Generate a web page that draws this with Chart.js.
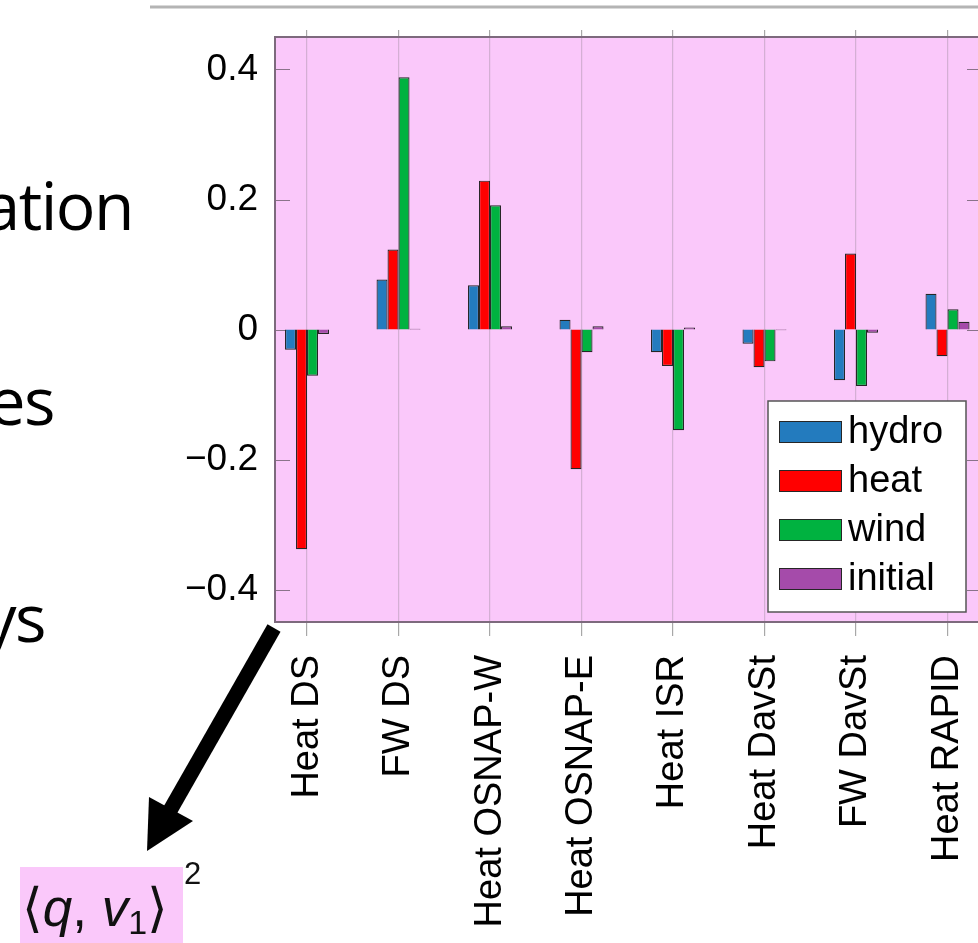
<!DOCTYPE html>
<html><head><meta charset="utf-8">
<script src="https://cdn.jsdelivr.net/npm/chart.js@4.4.1/dist/chart.umd.min.js"></script>
<style>
html,body{margin:0;padding:0;background:#fff;}
#page{position:relative;width:978px;height:943px;overflow:hidden;background:#fff;}
#c{position:absolute;left:150px;top:0;}
#deco{position:absolute;left:0;top:0;}
</style></head><body>
<div id="page">
<canvas id="c" width="850" height="943"></canvas>
<svg id="deco" width="978" height="943" xmlns="http://www.w3.org/2000/svg">
  <line x1="150" y1="7" x2="978" y2="7" stroke="#b4b4b4" stroke-width="3"/>
  <g font-family="'Open Sans', 'Noto Sans', sans-serif" font-size="66" fill="#000" text-anchor="end" letter-spacing="-1.5">
    <text x="133" y="230">ation</text>
    <text x="54" y="425">es</text>
    <text x="45" y="642">ys</text>
  </g>
  <line x1="274" y1="628" x2="168" y2="814" stroke="#000" stroke-width="15"/>
  <polygon points="149,797 193,821 147,851" fill="#000"/>
  <rect x="20" y="867" width="163" height="80" fill="#fac8fa"/>
  <text x="22" y="926" font-family="'Liberation Sans', 'DejaVu Sans', sans-serif" font-size="53" fill="#111">⟨<tspan font-style="italic">q</tspan>, <tspan font-style="italic">v</tspan><tspan font-size="34" dy="8">1</tspan><tspan dy="-8">⟩</tspan></text>
  <text x="184" y="884" font-family="'Liberation Sans', sans-serif" font-size="31" fill="#111">2</text>
</svg>
</div>
<script>
const categories = ['Heat DS','FW DS','Heat OSNAP-W','Heat OSNAP-E','Heat ISR','Heat DavSt','FW DavSt','Heat RAPID'];
const seriesNames = ['hydro','heat','wind','initial'];
const hydro   = [-0.031, 0.077, 0.068,  0.015, -0.035, -0.022, -0.078,  0.055];
const heat    = [-0.338, 0.123, 0.229, -0.215, -0.056, -0.058,  0.117, -0.041];
const wind    = [-0.071, 0.388, 0.191, -0.035, -0.155, -0.049, -0.087,  0.031];
const initial = [-0.007, 0.001, 0.005,  0.005,  0.003, -0.001, -0.005,  0.012];
const yTicks = [-0.4, -0.2, 0, 0.2, 0.4];
const seriesColors = ['rgb(35,123,190)','#ff0000','rgb(0,178,64)','rgb(165,75,170)'];

const FONT = "'Liberation Sans', Arial, Helvetica, sans-serif";
const PINK = '#fac8fa';
const X_MIN = 0.65, X_MAX = 8.377;

const seriesData = [hydro, heat, wind, initial];
const datasets = seriesData.map((arr, k) => ({
  label: seriesNames[k],
  data: arr.map((v, i) => ({x: i + 1, y: v})),
  backgroundColor: seriesColors[k],
  borderColor: '#262626',
  borderWidth: 1.2,
  categoryPercentage: 0.481,
  barPercentage: 1.0
}));

const bgPlugin = {
  id: 'pinkBg',
  beforeDraw(chart) {
    const {ctx, chartArea: a} = chart;
    ctx.save();
    ctx.fillStyle = PINK;
    ctx.fillRect(a.left, a.top, a.right - a.left, a.bottom - a.top);
    ctx.restore();
  }
};

const innerTicks = {
  id: 'innerTicks',
  beforeDatasetsDraw(chart) {
    const {ctx, chartArea: a, scales: {y}} = chart;
    ctx.save();
    ctx.strokeStyle = 'rgba(125,105,125,0.9)';
    ctx.lineWidth = 1.2;
    yTicks.forEach(v => {
      const py = Math.round(y.getPixelForValue(v)) + 0.5;
      ctx.beginPath();
      ctx.moveTo(a.left, py); ctx.lineTo(a.left + 15, py);
      ctx.moveTo(a.right - 15, py); ctx.lineTo(a.right, py);
      ctx.stroke();
    });
    ctx.strokeStyle = '#7d6a7d'; ctx.lineWidth = 2;
    ctx.beginPath(); ctx.moveTo(a.right, a.top); ctx.lineTo(a.right, a.bottom); ctx.stroke();
    ctx.restore();
  }
};

const boxLegend = {
  id: 'boxLegend',
  afterDraw(chart) {
    const {ctx, chartArea: a} = chart;
    const w = 198, h = 211;
    const x = a.right - 16 - w, y = a.bottom - 10 - h;
    ctx.save();
    ctx.fillStyle = '#fff';
    ctx.fillRect(x, y, w, h);
    ctx.strokeStyle = '#555'; ctx.lineWidth = 1.5;
    ctx.strokeRect(x, y, w, h);
    chart.data.datasets.forEach((ds, i) => {
      const cy = y + 31 + i * 49;
      ctx.fillStyle = ds.backgroundColor;
      ctx.fillRect(x + 11, cy - 11, 63, 22);
      ctx.strokeStyle = '#262626'; ctx.lineWidth = 1;
      ctx.strokeRect(x + 11.5, cy - 10.5, 62, 21);
      ctx.fillStyle = '#000';
      ctx.font = '38px ' + FONT;
      ctx.textBaseline = 'middle';
      ctx.textAlign = 'left';
      ctx.fillText(ds.label, x + 80, cy + 1);
    });
    ctx.restore();
  }
};

const setTicks = s => { s.ticks = categories.map((_, i) => ({value: i + 1})); };

new Chart(document.getElementById('c'), {
  type: 'bar',
  data: {datasets},
  options: {
    responsive: false,
    animation: false,
    devicePixelRatio: 1,
    layout: {padding: {left: 0, right: 18, top: 0, bottom: 0}},
    plugins: {legend: {display: false}, tooltip: {enabled: false}},
    scales: {
      x: {
        type: 'linear', position: 'bottom', min: X_MIN, max: X_MAX, offset: false,
        afterBuildTicks: setTicks,
        afterFit: s => { s.height = 321; s.paddingLeft = 0; s.paddingRight = 0; },
        grid: {display: true, offset: false, drawOnChartArea: true, drawTicks: true, tickLength: 14,
               color: 'rgba(140,130,140,0.35)', tickColor: '#a8a8a8', lineWidth: 1.2},
        border: {display: true, color: '#7d6a7d', width: 2},
        ticks: {autoSkip: false, minRotation: 90, maxRotation: 90, padding: 19, color: '#000',
                font: {family: FONT, size: 38},
                callback: v => categories[Math.round(v) - 1] || ''}
      },
      xTop: {
        type: 'linear', axis: 'x', position: 'top', min: X_MIN, max: X_MAX, offset: false,
        afterBuildTicks: setTicks,
        afterFit: s => { s.height = 37; s.paddingLeft = 0; s.paddingRight = 0; },
        grid: {display: true, offset: false, drawOnChartArea: false, drawTicks: true, tickLength: 7,
               tickColor: '#a8a8a8', lineWidth: 1.2},
        border: {display: true, color: '#7d6a7d', width: 2},
        ticks: {display: false}
      },
      y: {
        type: 'linear', min: -0.45, max: 0.45,
        afterBuildTicks: s => { s.ticks = yTicks.map(v => ({value: v})); },
        afterFit: s => { s.width = 125; s.paddingTop = 0; s.paddingBottom = 0; },
        grid: {display: false, drawTicks: false},
        border: {display: true, color: '#7d6a7d', width: 2},
        ticks: {padding: 17, color: '#000', font: {family: FONT, size: 37},
                callback: v => v === 0 ? '0' : (v < 0 ? '\u2212' + Math.abs(v).toFixed(1) : v.toFixed(1))}
      }
    }
  },
  plugins: [bgPlugin, innerTicks, boxLegend]
});
</script>
</body></html>
